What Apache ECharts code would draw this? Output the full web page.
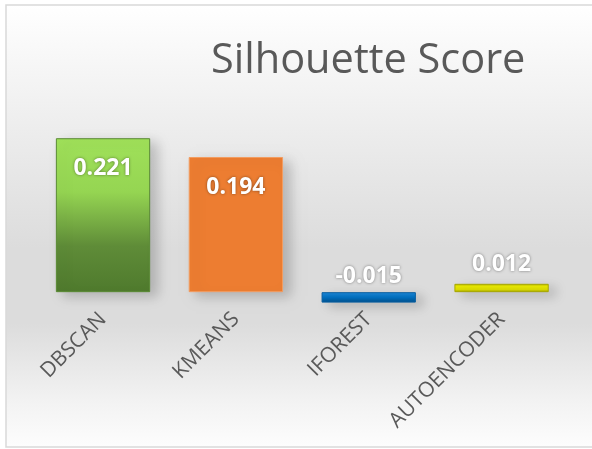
<!DOCTYPE html>
<html>
<head>
<meta charset="utf-8">
<script src="https://cdn.jsdelivr.net/npm/echarts@6/dist/echarts.min.js"></script>
<style>
  html, body { margin: 0; padding: 0; background: #fff; }
  #main { width: 592px; height: 449px; }
</style>
</head>
<body>
<div id="main"></div>
<script>
// data
const categories = ['DBSCAN', 'KMEANS', 'IFOREST', 'AUTOENCODER'];
const scores = [0.221, 0.194, -0.015, 0.012];

// one fill per bar
const grad = (stops) => new echarts.graphic.LinearGradient(0, 0, 0, 1,
  stops.map((c) => ({ offset: c[0], color: c[1] })));
const barFills = [
  grad([[0, '#a0e15a'], [0.35, '#95d552'], [0.7, '#5f8c38'], [1, '#4f7a2d']]),
  '#ed7d31',
  grad([[0, '#1f86d6'], [0.5, '#0070c0'], [1, '#004f8c']]),
  grad([[0, '#b5b500'], [0.3, '#e8e800'], [0.7, '#dcdc00'], [1, '#9d9d00']])
];
const barBorders = ['#5a8a34', '#f29c60', '#0a5fa0', '#a8a800'];

const chart = echarts.init(document.getElementById('main'));

const seriesData = scores.map((v, i) => ({
  value: v,
  itemStyle: { color: barFills[i], borderColor: barBorders[i], borderWidth: 1 },
  label: v > 0.05
    ? { position: 'insideTop', distance: 19 }
    : { position: 'top', distance: v < 0 ? 4 : 8 }
}));

chart.setOption({
  backgroundColor: '#ffffff',
  graphic: [{
    type: 'rect',
    z: -10,
    shape: { x: 6, y: 5, width: 600, height: 442 },
    style: {
      fill: new echarts.graphic.LinearGradient(0, 0, 0, 1, [
        { offset: 0, color: '#ffffff' },
        { offset: 0.25, color: '#efefef' },
        { offset: 0.55, color: '#dcdcdc' },
        { offset: 0.72, color: '#dcdcdc' },
        { offset: 0.9, color: '#f3f3f3' },
        { offset: 1, color: '#fdfdfd' }
      ]),
      stroke: '#d9d9d9',
      lineWidth: 1.5
    }
  }],
  title: {
    text: 'Silhouette Score',
    left: 206,
    top: 35,
    textStyle: { fontFamily: 'Open Sans', fontSize: 41.5, fontWeight: 'normal', color: '#595959' }
  },
  grid: { left: 36.6, right: 24, top: 118, bottom: 122, containLabel: false, outerBoundsMode: 'none' },
  xAxis: {
    type: 'category',
    data: categories,
    offset: -35,
    axisLine: { show: false, onZero: false },
    axisTick: { show: false },
    axisLabel: {
      rotate: 45,
      margin: 24,
      interval: 0,
      fontFamily: 'Open Sans',
      fontSize: 21,
      color: '#595959'
    }
  },
  yAxis: {
    type: 'value',
    min: -0.05,
    max: 0.25,
    show: false,
    splitLine: { show: false }
  },
  series: [{
    type: 'bar',
    data: seriesData,
    barCategoryGap: '29%',
    itemStyle: {
      shadowColor: 'rgba(0,0,0,0.2)',
      shadowBlur: 12,
      shadowOffsetX: 7,
      shadowOffsetY: 4
    },
    label: {
      show: true,
      formatter: (p) => p.value.toFixed(3),
      fontFamily: 'Open Sans',
      fontWeight: 'bold',
      fontSize: 23,
      color: '#ffffff',
      textShadowColor: 'rgba(0,0,0,0.45)',
      textShadowBlur: 3
    }
  }]
});
</script>
</body>
</html>
